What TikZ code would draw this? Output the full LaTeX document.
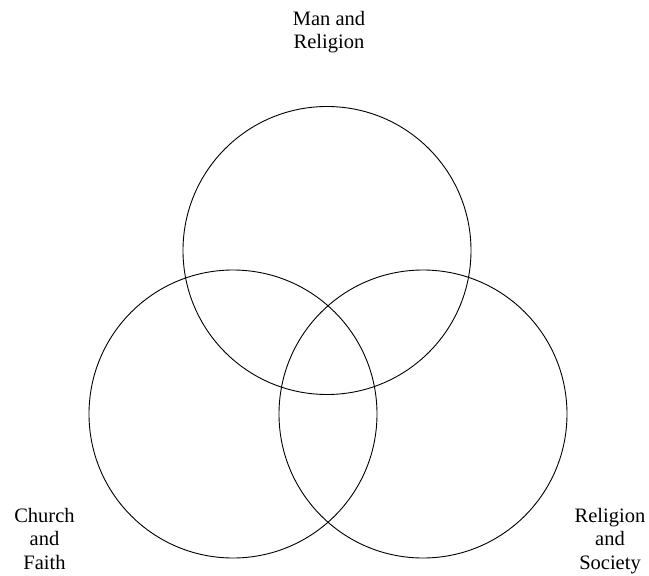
\documentclass[tikz,border=0pt]{standalone}
\usepackage{fontspec}
\setmainfont{Liberation Serif}
\begin{document}
\begin{tikzpicture}[x=1pt,y=-1pt,
  venn/.style={circle,draw=black,line width=0.9pt,minimum size=288pt,inner sep=0pt},
  lbl/.style={align=center,inner sep=0pt,anchor=north,font=\fontsize{20.5pt}{23.5pt}\selectfont}]
\useasboundingbox (0,0) rectangle (649,576);
\node[venn] (top) at (327,250.5) {};
\node[venn] (left) at (233,414) {};
\node[venn] (right) at (423,414) {};
\node[lbl] (tl) at (329,11) {Man and\\Religion};
\node[lbl] (ll) at (44.5,508) {Church\\and\\Faith};
\node[lbl] (rl) at (610,508) {Religion\\and\\Society};
\end{tikzpicture}
\end{document}
